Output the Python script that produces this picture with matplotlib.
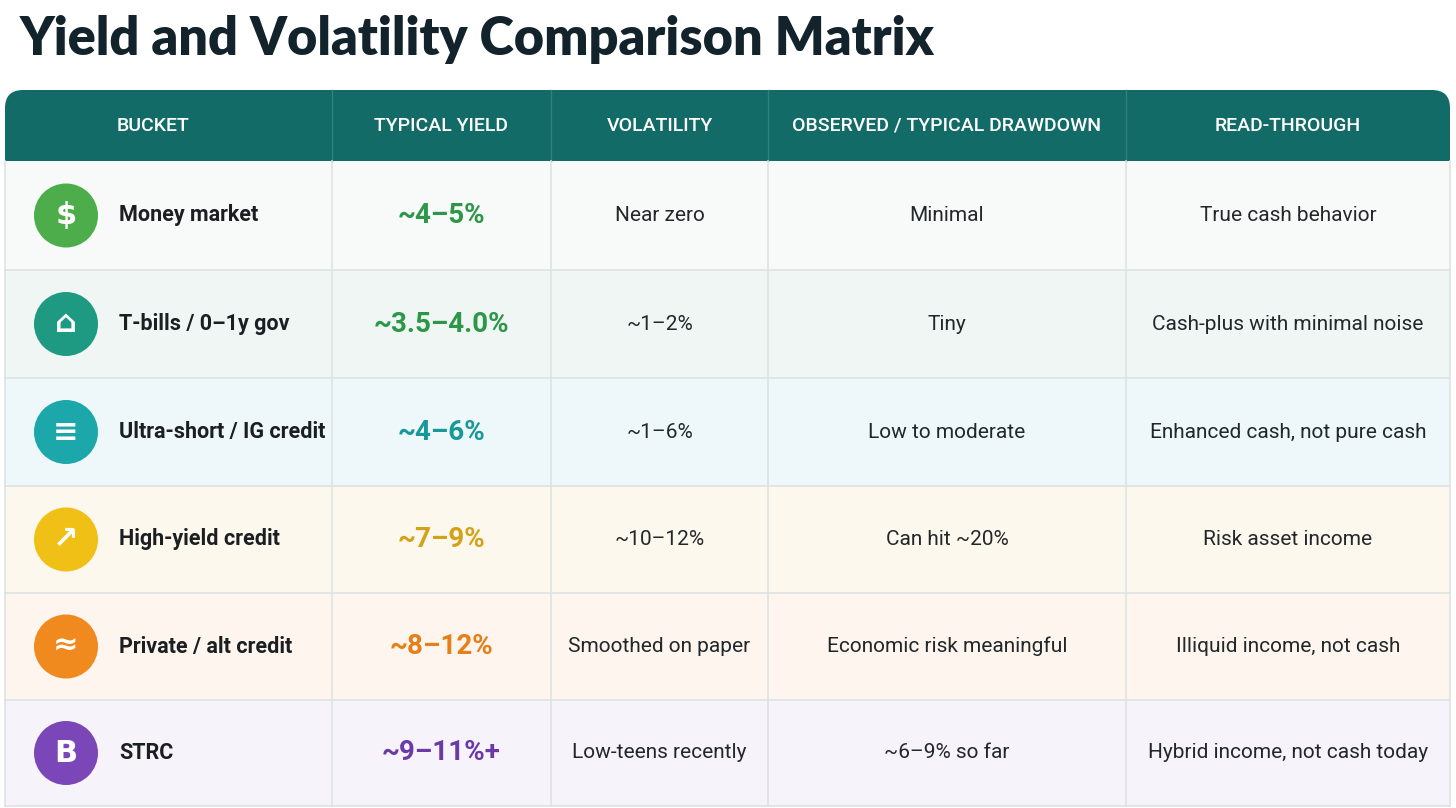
import matplotlib
matplotlib.use("Agg")
import matplotlib.pyplot as plt
from matplotlib.patches import Rectangle, Circle, FancyBboxPatch

title = "Yield and Volatility Comparison Matrix"
headers = ["BUCKET", "TYPICAL YIELD", "VOLATILITY", "OBSERVED / TYPICAL DRAWDOWN", "READ-THROUGH"]
buckets = ["Money market", "T-bills / 0\u20131y gov", "Ultra-short / IG credit",
           "High-yield credit", "Private / alt credit", "STRC"]
yields = ["~4\u20135%", "~3.5\u20134.0%", "~4\u20136%", "~7\u20139%", "~8\u201312%", "~9\u201311%+"]
volatility = ["Near zero", "~1\u20132%", "~1\u20136%", "~10\u201312%", "Smoothed on paper", "Low-teens recently"]
drawdown = ["Minimal", "Tiny", "Low to moderate", "Can hit ~20%", "Economic risk meaningful", "~6\u20139% so far"]
read_through = ["True cash behavior", "Cash-plus with minimal noise", "Enhanced cash, not pure cash",
                "Risk asset income", "Illiquid income, not cash", "Hybrid income, not cash today"]

icon_colors = ["#4cad4a", "#1f9a82", "#1ca7ab", "#f0c016", "#f08a1e", "#7b47b8"]
yield_colors = ["#2c9748", "#2c9748", "#17999a", "#d4a21a", "#e67f18", "#6b3aa6"]
row_bg = ["#f7faf8", "#eff6f3", "#eef7fa", "#fdf8ee", "#fdf5ee", "#f6f3fa"]

col_x = [5, 332, 551, 768, 1126, 1450]
row_y = [161, 270, 378, 486, 593, 700, 806]

fig = plt.figure(figsize=(14.56, 8.08), dpi=100)
ax = fig.add_axes([0, 0, 1, 1])
ax.set_xlim(0, 1456)
ax.set_ylim(808, 0)
ax.axis("off")

ax.text(20, 40, title, fontsize=37.5, fontweight="heavy", color="#13232c", va="center", ha="left",
        family="Lato")

# header
ax.add_patch(FancyBboxPatch((col_x[0], 90), col_x[-1] - col_x[0], 90, boxstyle="round,pad=0,rounding_size=18",
                            fc="#126b66", ec="none"))
ax.add_patch(Rectangle((col_x[0], 130), col_x[-1] - col_x[0], 31, fc="#126b66", ec="none"))
for i, h in enumerate(headers):
    cx = (col_x[i] + col_x[i + 1]) / 2
    if i == 0:
        cx = 153
    ax.text(cx, 126, h, color="white", fontsize=14, fontweight="medium", ha="center", va="center",
            family="Roboto")
    if i > 0:
        ax.plot([col_x[i], col_x[i]], [90, 161], color="#2f817c", lw=1)

for r in range(len(buckets)):
    y0, y1 = row_y[r], row_y[r + 1]
    cy = (y0 + y1) / 2
    ax.add_patch(Rectangle((col_x[0], y0), col_x[-1] - col_x[0], y1 - y0, fc=row_bg[r], ec="none"))
    ax.plot([col_x[0], col_x[-1]], [y1, y1], color="#dde3e3", lw=1.2)
    ax.add_patch(Circle((66, cy), 32, fc=icon_colors[r], ec="none"))
    ax.text(66, cy, ["$", "\u2302", "\u2261", "\u2197", "\u2248", "B"][r], color="white", fontsize=22,
            fontweight="bold", ha="center", va="center")
    ax.text(119, cy, buckets[r], fontsize=15.5, fontweight="bold", color="#1b1f22", ha="left", va="center",
            family="Roboto")
    ax.text((col_x[1] + col_x[2]) / 2, cy, yields[r], fontsize=20, fontweight="bold", color=yield_colors[r],
            ha="center", va="center", family="Roboto")
    for c, vals in zip([2, 3, 4], [volatility, drawdown, read_through]):
        ax.text((col_x[c] + col_x[c + 1]) / 2, cy, vals[r], fontsize=15, color="#22272a",
                ha="center", va="center", family="Roboto")

for x in col_x[1:-1]:
    ax.plot([x, x], [161, 806], color="#dde3e3", lw=1.2)
ax.plot([col_x[0], col_x[0]], [161, 806], color="#dde3e3", lw=1.2)
ax.plot([col_x[-1], col_x[-1]], [161, 806], color="#dde3e3", lw=1.2)

fig.savefig("out.png", dpi=100, facecolor="white")
